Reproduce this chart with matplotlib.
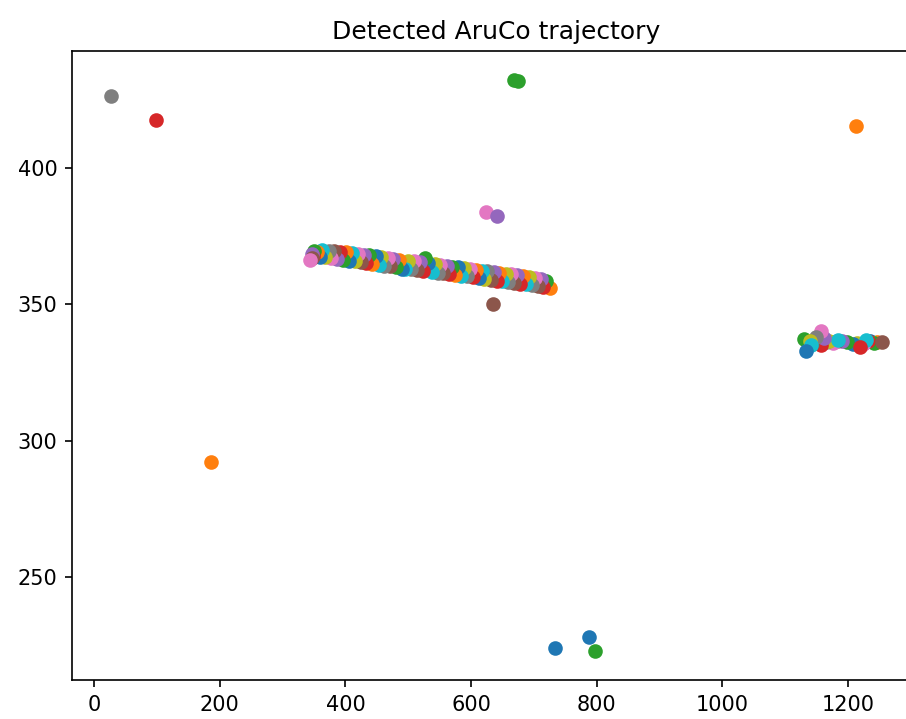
import matplotlib
matplotlib.use("Agg")
import matplotlib.pyplot as plt

# detected marker centres (pixels), in detection order
xs = [1236, 1246, 1241, 1232, 1226, 1255, 1224, 1220, 1214, 1229,
      1208, 1213, 1199, 1219, 1190, 1182, 1176, 1165, 1170, 1184,
      1152, 1147, 1130, 1157, 1162, 1143, 1157, 1150, 1139, 1142,
      1133,
      725, 720, 715, 711, 706, 702, 697, 692, 688, 787,
      683, 798, 678, 673, 668, 664, 659, 655, 650, 733,
      645, 668, 641, 636, 631, 624, 626, 621, 617, 612,
      608, 675, 603, 642, 635, 598, 594, 589, 584, 579,
      574, 570, 565, 561, 556, 551, 547, 542, 537, 532,
      186, 527, 523, 518, 514, 509, 504, 500, 495, 490,
      485, 480, 99, 476, 471, 467, 462, 457, 453, 448,
      443, 438, 433, 429, 424, 420, 26, 415, 410, 406,
      401, 396, 391, 386, 382, 377, 373, 368, 363, 359,
      354, 350, 349, 347, 346, 344]
ys = [336.4, 336.1, 335.7, 336.6, 336.0, 336.3, 335.5, 335.2, 336.0, 337.0,
      335.5, 415.4, 336.2, 334.3, 336.4, 336.6, 336.0, 336.3, 336.7, 336.9,
      336.0, 337.3, 337.3, 335.0, 337.8, 335.4, 340.1, 338.0, 336.7, 335.2,
      332.8,
      356.0, 358.6, 356.4, 359.2, 356.8, 359.6, 357.0, 360.0, 357.3, 228.0,
      360.3, 222.9, 357.5, 360.6, 357.8, 361.0, 358.1, 361.2, 358.4, 224.0,
      361.5, 432.3, 358.7, 361.8, 359.0, 383.9, 362.1, 359.3, 362.3, 359.6,
      362.6, 431.9, 359.9, 382.2, 350.2, 362.9, 360.2, 363.2, 360.4, 363.5,
      360.7, 363.8, 361.0, 364.1, 361.3, 364.4, 361.6, 364.7, 361.9, 365.0,
      292.2, 367.0, 362.2, 365.4, 362.5, 365.7, 362.8, 366.0, 363.1, 362.9,
      366.4, 363.6, 417.4, 366.7, 363.9, 367.0, 364.2, 367.3, 364.5, 367.6,
      364.8, 367.9, 365.1, 368.2, 365.4, 368.4, 426.3, 365.7, 368.7, 366.0,
      369.0, 366.3, 369.3, 366.6, 369.5, 366.9, 369.6, 367.2, 369.8, 367.5,
      369.3, 369.6, 367.6, 368.4, 367.0, 366.2]

fig = plt.figure(figsize=(906 / 150, 719 / 150), dpi=150)
ax = fig.add_axes([72 / 906, 39 / 719, 849 / 906, 629 / 719])

for x, y in zip(xs, ys):
    ax.scatter(x, y)

ax.set_title("Detected AruCo trajectory")
fig.savefig("out.png", dpi=150)
